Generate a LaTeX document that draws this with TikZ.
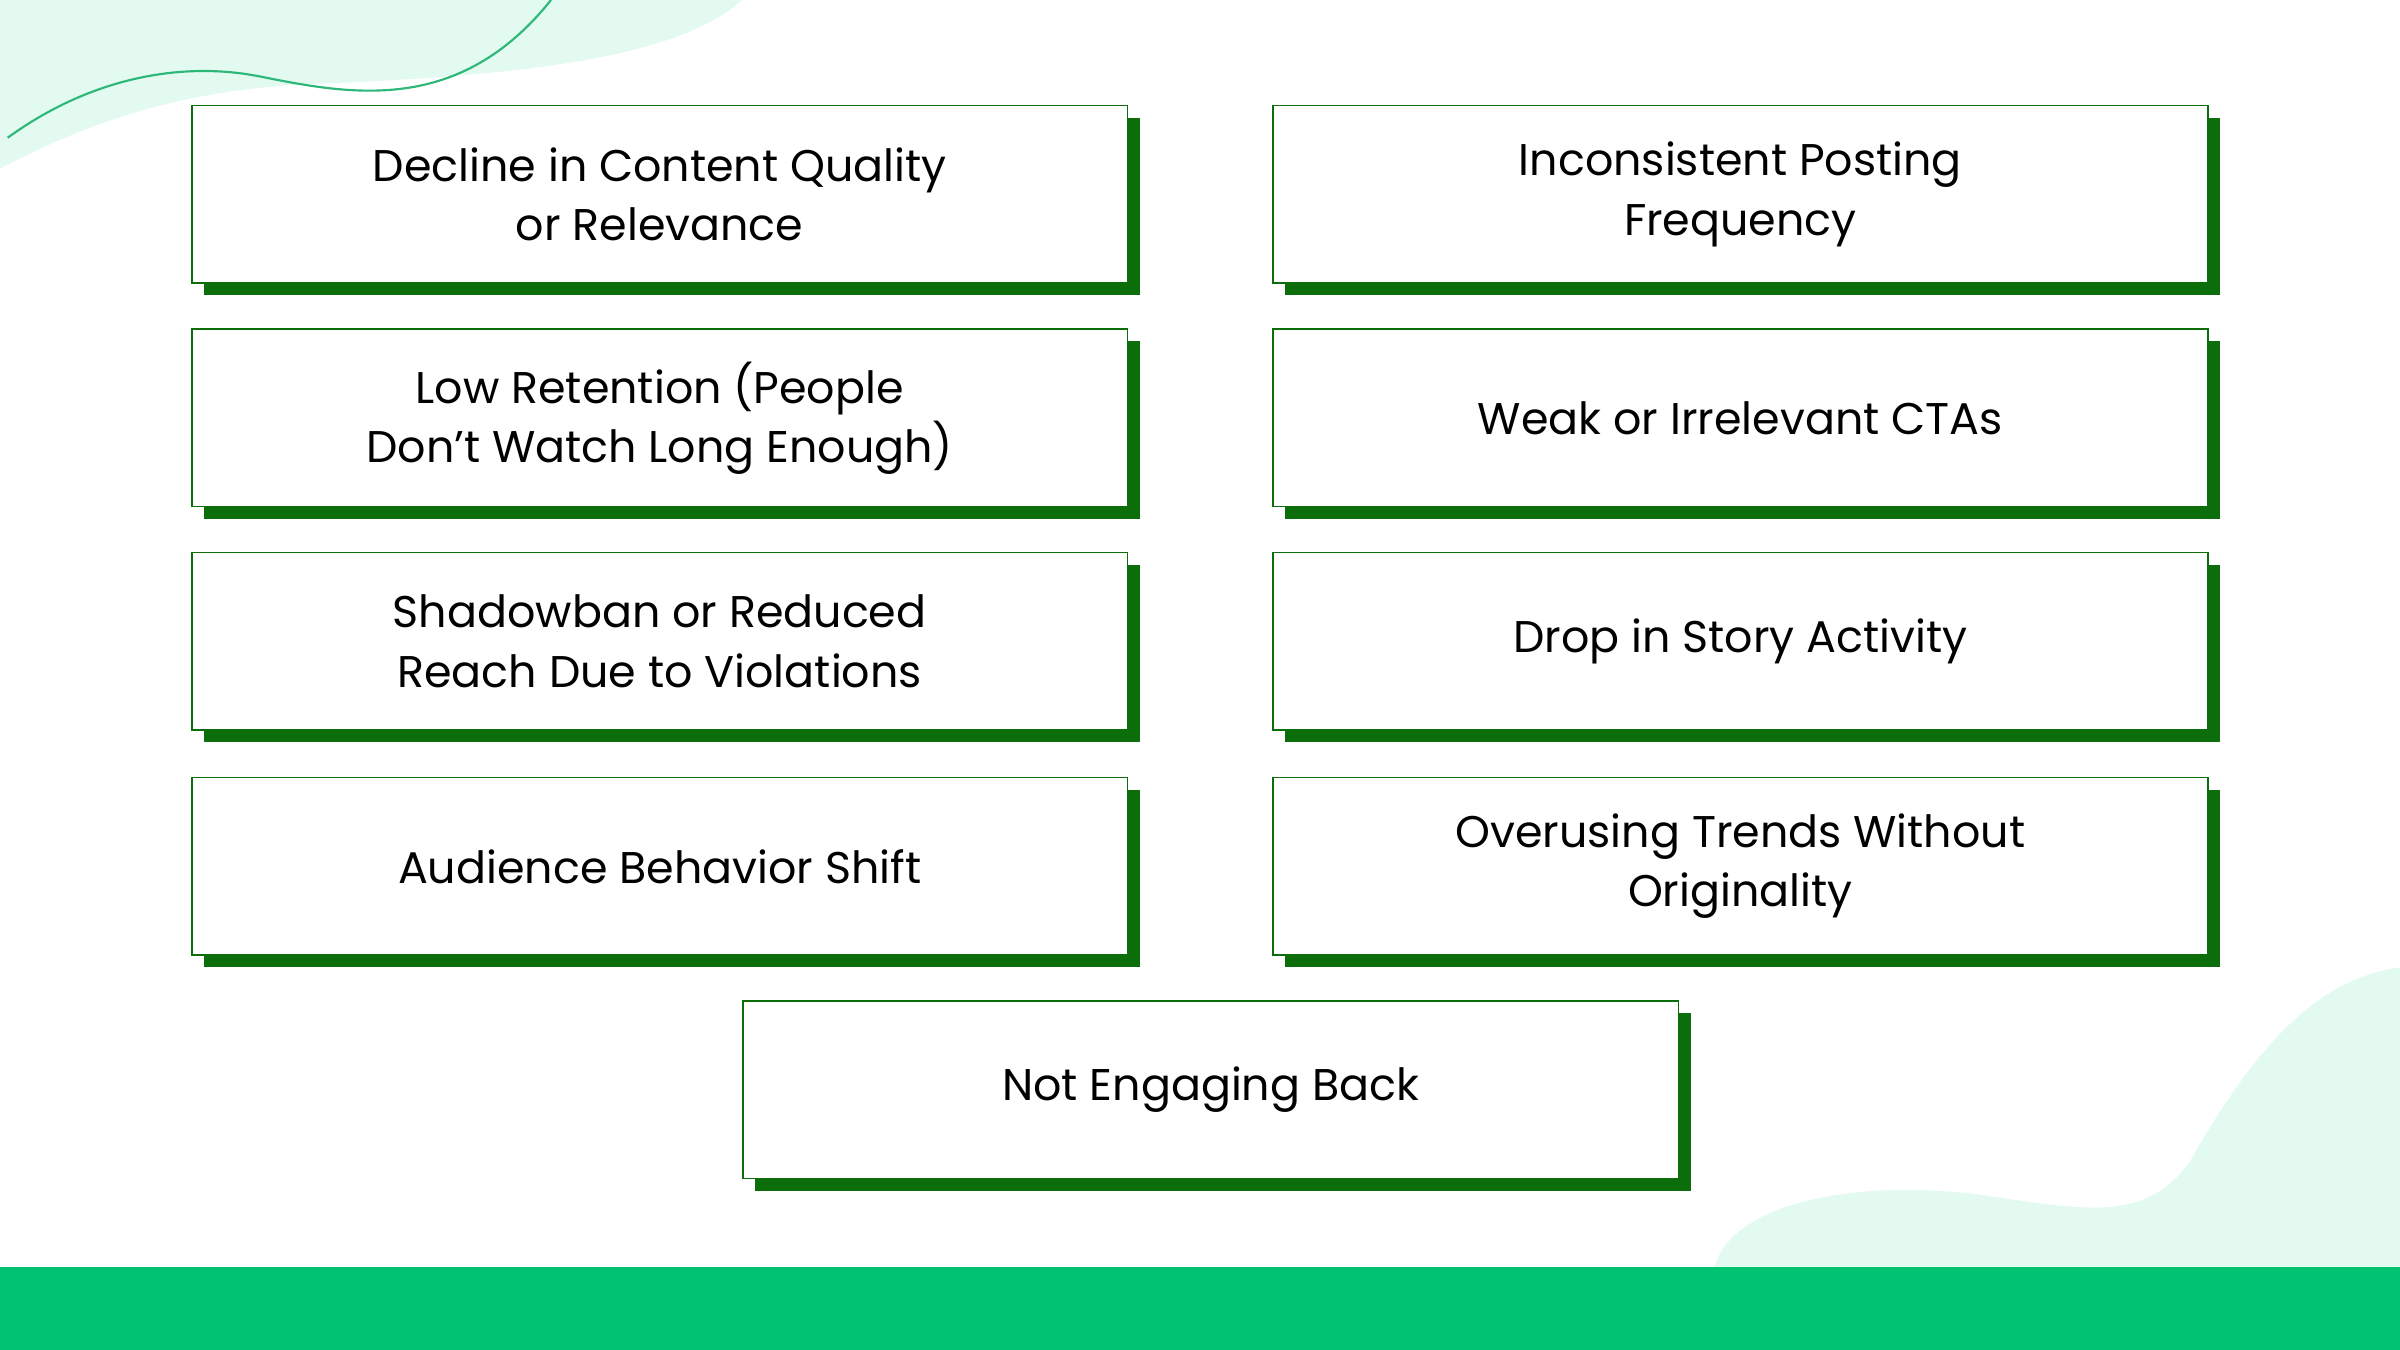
\documentclass[tikz,border=0pt]{standalone}
\usepackage{fontspec}
\setmainfont{Poppins}
\begin{document}
\definecolor{dg}{HTML}{0B6E0B}
\definecolor{mint}{HTML}{E2FAF0}
\definecolor{bar}{HTML}{00C271}
\definecolor{ln}{HTML}{2DB87A}
\begin{tikzpicture}[x=0.02cm,y=-0.02cm,
  card/.style={draw=dg,line width=0.6pt,fill=white,minimum width=611*0.02cm,minimum height=116*0.02cm,
    align=center,font=\fontsize{16.5}{22}\selectfont,inner sep=0pt},
  shadow/.style={fill=dg,minimum width=611*0.02cm,minimum height=116*0.02cm,inner sep=0pt}]
\useasboundingbox (0,0) rectangle (1568,882);
\fill[mint] (0,0) -- (485,0) .. controls (440,40) and (330,50) .. (200,55) .. controls (100,60) and (40,90) .. (0,110) -- cycle;
\fill[mint] (1120,828) .. controls (1130,790) and (1200,770) .. (1290,780) .. controls (1360,790) and (1400,800) .. (1430,760) .. controls (1470,690) and (1510,640) .. (1568,632) -- (1568,828) -- cycle;
\draw[ln,line width=0.8pt] (5,90) .. controls (60,50) and (120,40) .. (170,50) .. controls (230,62) and (300,75) .. (360,0);
\fill[bar] (0,828) rectangle (1568,882);
\foreach \n/\x/\y/\t in {
 a/431/127/{Decline in Content Quality\\or Relevance},
 b/1137/127/{Inconsistent Posting\\Frequency},
 c/431/273/{Low Retention (People\\Don’t Watch Long Enough)},
 d/1137/273/{Weak or Irrelevant CTAs},
 e/431/419/{Shadowban or Reduced\\Reach Due to Violations},
 f/1137/419/{Drop in Story Activity},
 g/431/566/{Audience Behavior Shift},
 h/1137/566/{Overusing Trends Without\\Originality},
 i/791/712/{Not Engaging Back}}{
  \node[shadow] (s\n) at (\x+8,\y+8) {};
  \node[card] (\n) at (\x,\y) {\t};
}
\end{tikzpicture}
\end{document}
